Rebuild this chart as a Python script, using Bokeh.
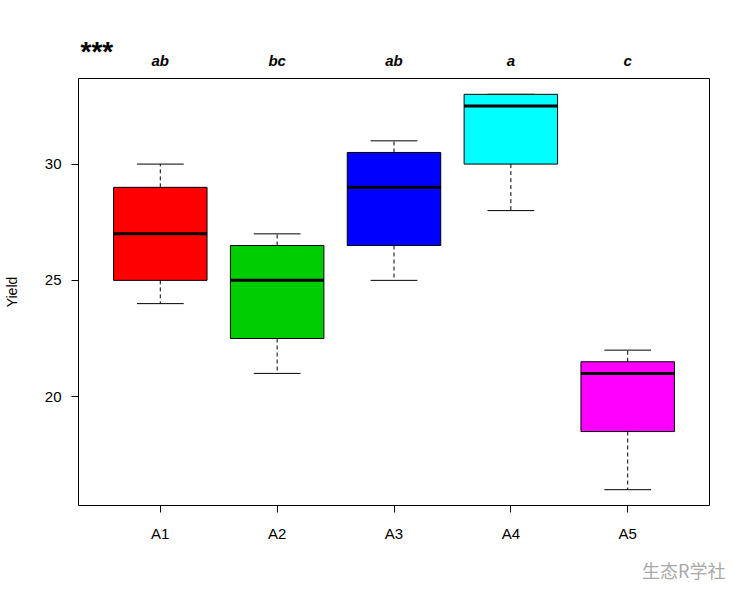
from bokeh.plotting import figure
from bokeh.models import Range1d, FixedTicker, ColumnDataSource, LinearAxis, Title
from bokeh.embed import file_html
from bokeh.resources import INLINE

groups = ["A1", "A2", "A3", "A4", "A5"]
mins = [24, 21, 25, 28, 16]
q1s = [25, 22.5, 26.5, 30, 18.5]
medians = [27, 25, 29, 32.5, 21]
q3s = [29, 26.5, 30.5, 33, 21.5]
maxs = [30, 27, 31, 33, 22]
letters = ["ab", "bc", "ab", "a", "c"]
colors = ["#FF0000", "#00CD00", "#0000FF", "#00FFFF", "#FF00FF"]
y_ticks = [20, 25, 30]

FONT = "Liberation Sans"
W, H = 740, 595
FL, FT, FR, FB = 78, 78, 709, 505   # frame edges in page pixels

p = figure(width=W, height=H, output_backend="svg", toolbar_location=None,
           x_range=Range1d(0.3, 5.7), y_range=Range1d(15.32, 33.68),
           min_border_left=FL, min_border_right=W - FR, min_border_top=FT,
           min_border_bottom=H - FB, title=None)
p.background_fill_color = "white"
p.border_fill_color = "white"
p.outline_line_color = "black"
p.outline_line_width = 1
p.xgrid.visible = False
p.ygrid.visible = False

xs = [i + 1 for i in range(len(groups))]
src = ColumnDataSource(dict(x=xs, q1=q1s, q3=q3s, med=medians, mn=mins, mx=maxs,
                            color=colors,
                            xl=[x - 0.4 for x in xs], xr=[x + 0.4 for x in xs],
                            cl=[x - 0.2 for x in xs], cr=[x + 0.2 for x in xs]))

# whiskers (dashed)
p.segment(x0="x", y0="q3", x1="x", y1="mx", source=src, line_color="black",
          line_dash="4 3", line_width=1)
p.segment(x0="x", y0="q1", x1="x", y1="mn", source=src, line_color="black",
          line_dash="4 3", line_width=1)
# caps
p.segment(x0="cl", y0="mx", x1="cr", y1="mx", source=src, line_color="black", line_width=1)
p.segment(x0="cl", y0="mn", x1="cr", y1="mn", source=src, line_color="black", line_width=1)
# boxes
p.vbar(x="x", width=0.8, top="q3", bottom="q1", source=src, fill_color="color",
       line_color="black", line_width=1)
# medians
p.segment(x0="xl", y0="med", x1="xr", y1="med", source=src, line_color="black", line_width=3)

# axes
p.xaxis.ticker = FixedTicker(ticks=xs)
p.xaxis.major_label_overrides = {x: g for x, g in zip(xs, groups)}
p.yaxis.ticker = FixedTicker(ticks=y_ticks)
for ax in (p.xaxis[0], p.yaxis[0]):
    ax.axis_line_color = None
    ax.major_tick_in = 0
    ax.major_tick_out = 7
    ax.minor_tick_line_color = None
    ax.major_tick_line_color = "black"
    ax.major_label_text_font = FONT
    ax.major_label_text_font_size = "15px"
    ax.major_label_text_color = "black"
p.xaxis.major_label_standoff = 12
p.yaxis.major_label_standoff = 10
p.yaxis.axis_label = "Yield"
p.yaxis.axis_label_text_font = FONT
p.yaxis.axis_label_text_font_size = "14px"
p.yaxis.axis_label_text_font_style = "normal"
p.yaxis.axis_label_text_color = "black"
p.yaxis.axis_label_standoff = 22

# significance letters as a top axis
top = LinearAxis(ticker=FixedTicker(ticks=xs),
                 major_label_overrides={x: l for x, l in zip(xs, letters)})
top.axis_line_color = None
top.major_tick_line_color = None
top.minor_tick_line_color = None
top.major_tick_in = 0
top.major_tick_out = 0
top.major_label_standoff = 10
top.major_label_text_font = FONT
top.major_label_text_font_size = "15px"
top.major_label_text_font_style = "bold italic"
top.major_label_text_color = "black"
p.add_layout(top, "above")

# "***" above the letters, at the left edge
p.add_layout(Title(text="***", align="left", offset=2, standoff=-36,
                   text_font=FONT, text_font_size="28px", text_font_style="bold",
                   text_color="black"), "above")
# watermark below the x axis, at the right
p.add_layout(Title(text="生态R学社", align="right", offset=-16, standoff=21,
                   text_font="Noto Sans CJK SC", text_font_size="18px",
                   text_font_style="normal", text_color="#a8a8a8"), "below")

open("out.html", "w").write(file_html(p, INLINE))
